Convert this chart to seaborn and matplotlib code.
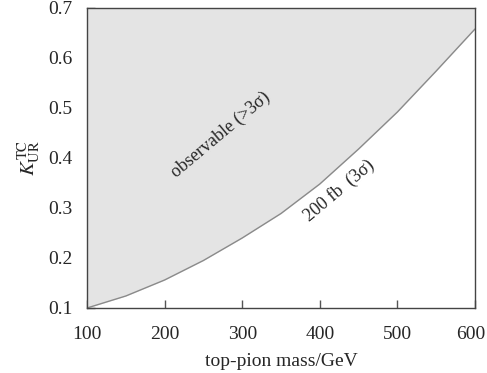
import matplotlib
matplotlib.use("Agg")
import matplotlib.pyplot as plt
import matplotlib.transforms as mtransforms
import seaborn as sns
import pandas as pd

mass = [100, 150, 200, 250, 300, 350, 400, 450, 500, 550, 600]
kappa = [0.100, 0.124, 0.156, 0.195, 0.240, 0.289, 0.348, 0.418, 0.492, 0.574, 0.658]
xticks = [100, 200, 300, 400, 500, 600]
yticks = [0.1, 0.2, 0.3, 0.4, 0.5, 0.6, 0.7]

sns.set_style("ticks")
plt.rcParams['font.family'] = ['Liberation Serif', 'DejaVu Serif']
plt.rcParams['mathtext.fontset'] = 'stix'

df = pd.DataFrame({"mass": mass, "kappa": kappa})

fig = plt.figure(figsize=(4.87, 3.73), dpi=100)
ax = fig.add_axes([87/487, 1-308/373, (475-87)/487, 300/373])

ax.fill_between(df["mass"], df["kappa"], 0.7, color="#e4e4e4", linewidth=0)
sns.lineplot(data=df, x="mass", y="kappa", ax=ax, color="#8a8a8a", linewidth=1.0)

ax.set_xlim(100, 600)
ax.set_ylim(0.1, 0.7)
ax.set_xticks(xticks)
ax.set_yticks(yticks)
ax.set_xticklabels([str(v) for v in xticks])
ax.set_yticklabels([f"{v:.1f}" for v in yticks])
ax.tick_params(direction="in", length=6, width=1, color="#555555", labelsize=14,
               top=False, right=False)
ax.tick_params(axis="x", pad=13)
ax.tick_params(axis="y", pad=10.5)
for s in ax.spines.values():
    s.set_color("#444444")
    s.set_linewidth(1.0)

# nudge the last x tick label so it stays inside the canvas
last = ax.get_xticklabels()[-1]
last.set_transform(last.get_transform() +
                   mtransforms.ScaledTranslation(-4/100, 0, fig.dpi_scale_trans))

ax.set_xlabel("top-pion mass/GeV", fontsize=14, labelpad=7)
ax.set_ylabel(r"$K_{\rm UR}^{\rm TC}$", fontsize=15, labelpad=4)

ax.text(272, 0.446, "observable (>3σ)", rotation=40, fontsize=13,
        ha="center", va="center", rotation_mode="anchor")
ax.text(425, 0.334, "200 fb  (3σ)", rotation=40, fontsize=13,
        ha="center", va="center", rotation_mode="anchor")

fig.savefig("out.png", dpi=100)
